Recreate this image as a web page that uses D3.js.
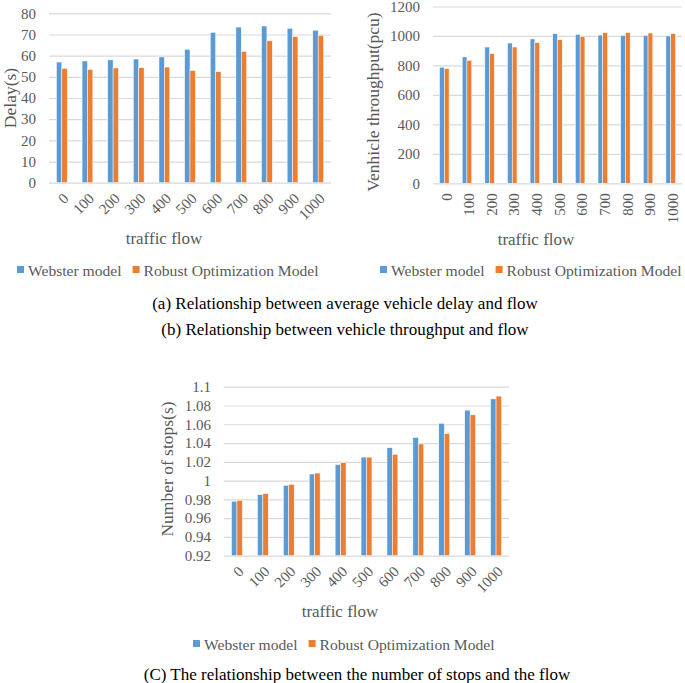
<!DOCTYPE html>
<html>
<head>
<meta charset="utf-8">
<script src="https://cdn.jsdelivr.net/npm/d3@7"></script>
</head>
<body style="margin:0">
<svg id="fig" width="685" height="683"></svg>
<script>
var categories = ["0", "100", "200", "300", "400", "500", "600", "700", "800", "900", "1000"];
var seriesNames = ["Webster model", "Robust Optimization Model"];

var delayWebster = [57, 57.5, 58, 58.4, 59.4, 63, 71, 73.5, 74, 72.9, 72];
var delayRobust = [54, 53.5, 54.2, 54.3, 54.6, 53, 52.4, 62, 67, 69, 69.6];
var delayTicks = [0, 10, 20, 30, 40, 50, 60, 70, 80];

var throughputWebster = [788, 858, 925, 952, 980, 1015, 1011, 1006, 1004, 1004, 1000];
var throughputRobust = [779, 835, 880, 925, 955, 975, 998, 1022, 1022, 1020, 1015];
var throughputTicks = [0, 200, 400, 600, 800, 1000, 1200];

var stopsWebster = [0.978, 0.985, 0.995, 1.007, 1.017, 1.025, 1.035, 1.046, 1.061, 1.075, 1.087];
var stopsRobust = [0.979, 0.986, 0.996, 1.008, 1.019, 1.025, 1.028, 1.039, 1.050, 1.070, 1.090];
var stopsTicks = [0.92, 0.94, 0.96, 0.98, 1, 1.02, 1.04, 1.06, 1.08, 1.1];

var colors = ["#5B9BD5", "#ED7D31"],
    grey = "#595959",
    serif = "'Liberation Serif'";

var svg = d3.select("#fig");

svg.append("rect").attr("width", 685).attr("height", 683).attr("fill", "#fff");

function panel(p) {
  var x0 = d3.scaleBand().domain(categories).range([p.left, p.right])
      .paddingInner(0.58).paddingOuter(0.29);
  var x1 = d3.scaleBand().domain([0, 1]).range([0, x0.bandwidth()]);
  var y = d3.scaleLinear().domain([p.ticks[0], p.ticks[p.ticks.length - 1]])
      .range([p.bottom, p.top]);

  var g = svg.append("g");

  // gridlines + y labels
  var ax = g.append("g")
      .attr("transform", "translate(" + p.left + ",0)")
      .call(d3.axisLeft(y).tickValues(p.ticks).tickSize(-(p.right - p.left))
        .tickPadding(13).tickFormat(function(d) { return String(+d.toFixed(2)); }));
  ax.attr("font-family", null).attr("font-size", null);
  ax.select(".domain").remove();
  ax.selectAll("line").attr("stroke", "#D9D9D9").attr("stroke-width", 1.2);
  ax.selectAll("text").attr("fill", grey)
      .attr("font-size", 15).style("font-family", serif);

  // bars
  var groups = g.selectAll(".grp")
      .data(categories)
      .enter().append("g")
      .attr("transform", function(d) { return "translate(" + x0(d) + ",0)"; });

  groups.selectAll("rect")
      .data(function(d, i) { return [p.a[i], p.b[i]]; })
      .enter().append("rect")
      .attr("x", function(d, j) { return x1(j); })
      .attr("width", x1.bandwidth())
      .attr("y", function(d) { return y(d); })
      .attr("height", function(d) { return p.bottom - y(d); })
      .attr("fill", function(d, j) { return colors[j]; })
      .attr("stroke", "#fff")
      .attr("stroke-width", 0.5);

  // x labels
  g.selectAll(".xl")
      .data(categories)
      .enter().append("text")
      .attr("transform", function(d) {
        var cx = x0(d) + x0.bandwidth() / 2;
        if (p.rot == -90) return "translate(" + (cx + 2) + "," + (p.bottom + 10) + ") rotate(-90)";
        return "translate(" + (cx + 4) + "," + (p.bottom + 13) + ") rotate(-45)";
      })
      .attr("dy", "0.35em")
      .attr("text-anchor", "end")
      .attr("fill", grey)
      .attr("font-size", 15).style("font-family", serif)
      .text(function(d) { return d; });

  // axis titles
  g.append("text")
      .attr("transform", "translate(" + p.yTitle[0] + "," + p.yTitle[1] + ") rotate(-90)")
      .attr("text-anchor", "middle")
      .attr("fill", grey)
      .attr("font-size", 17.5).style("font-family", serif)
      .text(p.yLabel);

  g.append("text")
      .attr("x", p.xTitle[0])
      .attr("y", p.xTitle[1])
      .attr("text-anchor", "middle")
      .attr("fill", grey)
      .attr("font-size", 17).style("font-family", serif)
      .text("traffic flow");

  // legend
  var lx = p.legend[0], ly = p.legend[1];
  seriesNames.forEach(function(name, j) {
    g.append("rect")
        .attr("x", lx).attr("y", ly - 10)
        .attr("width", 7).attr("height", 7)
        .attr("fill", colors[j]);
    var t = g.append("text")
        .attr("x", lx + 11).attr("y", ly)
        .attr("fill", grey)
        .attr("font-size", 15.6).style("font-family", serif)
        .text(name);
    lx = lx + 11 + name.length * 7.2 + 11;
  });
}

panel({ a: delayWebster, b: delayRobust, ticks: delayTicks,
        left: 49, right: 331, top: 13.3, bottom: 182.7, rot: -45,
        yLabel: "Delay(s)", yTitle: [16, 98], xTitle: [164, 244], legend: [17, 276] });

panel({ a: throughputWebster, b: throughputRobust, ticks: throughputTicks,
        left: 433, right: 682, top: 6.5, bottom: 183.3, rot: -90,
        yLabel: "Venhicle throughput(pcu)", yTitle: [379, 102], xTitle: [536, 245], legend: [380, 276] });

panel({ a: stopsWebster, b: stopsRobust, ticks: stopsTicks,
        left: 224, right: 509, top: 386.7, bottom: 555.7, rot: -45,
        yLabel: "Number of stops(s)", yTitle: [173, 469], xTitle: [340, 617], legend: [193, 650] });

// captions
var captions = [
  { t: "(a) Relationship between average vehicle delay and flow", x: 345, y: 309 },
  { t: "(b) Relationship between vehicle throughput and flow", x: 345, y: 335 },
  { t: "(C) The relationship between the number of stops and the flow", x: 357, y: 680 }
];

svg.selectAll(".cap")
    .data(captions)
    .enter().append("text")
    .attr("x", function(d) { return d.x; })
    .attr("y", function(d) { return d.y; })
    .attr("text-anchor", "middle")
    .attr("fill", "#000")
    .attr("font-size", 17).style("font-family", serif)
    .text(function(d) { return d.t; });
</script>
</body>
</html>
